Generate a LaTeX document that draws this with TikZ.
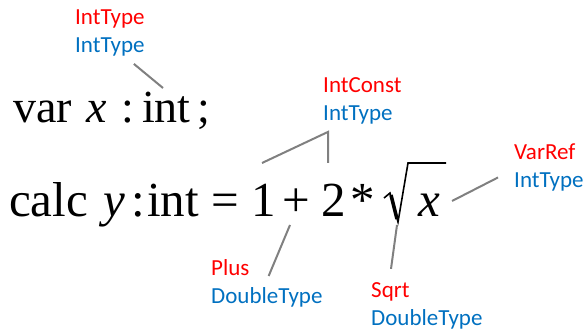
\documentclass[tikz,border=0pt]{standalone}
\usepackage{fontspec}
\setmainfont{Liberation Serif}
\newfontfamily\lblfont{Carlito}
\usetikzlibrary{positioning, calc}
\definecolor{TypeRed}{RGB}{255,0,0}
\definecolor{TypeBlue}{RGB}{0,112,192}
\definecolor{LinkGray}{RGB}{128,128,128}

\begin{document}
\begin{tikzpicture}[x=1pt, y=-1pt]
    \tikzset{code/.style={inner sep=0pt, anchor=base west},
        kind/.style={inner sep=0pt, anchor=base west, font=\lblfont\fontsize{23}{28}\selectfont, text=TypeRed},
        type/.style={kind, text=TypeBlue},
        link/.style={draw=LinkGray, line width=2pt}
    }
    \useasboundingbox (0, 0) rectangle (586, 331);

    % the two lines of code, one node for each token
    \foreach \tok / \x [count=\i] in {var/13, {\textit{x}}/86, :/121, int/142, ;/197} {
        \node (Decl-\i) [code, font=\fontsize{46}{54}\selectfont] at (\x, 123) {\tok};
    }
    \foreach \tok / \x [count=\i] in {calc/9, {\textit{y}}/103, :/131, int/147, =/211, 1/251, +/282, 2/321, */350, {\textit{x}}/418} {
        \node (Calc-\i) [code, font=\fontsize{49}{58}\selectfont] at (\x, 216) {\tok};
    }
    % root sign over x
    \draw [line width=1.6pt, line join=miter] (384, 198) -- (390, 193) -- (398, 222) -- (408, 163) -- (446, 163);
    \draw [line width=3.6pt] (391, 195) -- (397, 219);

    \foreach \lbl / \kindtext / \typetext / \x / \y in {Int/IntType/IntType/75/25, Const/IntConst/IntType/323/93,
        Plus/Plus/DoubleType/211/275, Sqrt/Sqrt/DoubleType/371/297, Var/VarRef/IntType/514/160} {
        \node (\lbl-Kind) [kind] at (\x, \y) {\kindtext};
        \node (\lbl-Type) [type] at ([yshift=-28pt]\lbl-Kind.base west) {\typetext};
    }

    % ends of the connectors on the code side
    \coordinate (int-end) at (163, 88);
    \coordinate (one-end) at (262, 163);
    \coordinate (two-end) at (328, 163);
    \coordinate (plus-end) at (290, 225);
    \coordinate (sqrt-end) at (397, 225);
    \coordinate (x-end) at (452, 201);

    \draw [link] ([shift={(-11,7)}]Int-Type.south east) -- (int-end);
    \draw [link] (one-end) -- ([shift={(5,7)}]Const-Type.south west) -- (two-end);
    \draw [link] (plus-end) -- ([shift={(19,1)}]Plus-Kind.base east);
    \draw [link] (sqrt-end) -- ([shift={(20,-13)}]Sqrt-Kind.north west);
    \draw [link] (x-end) -- ([shift={(-16,-5)}]Var-Type.west);
\end{tikzpicture}
\end{document}
